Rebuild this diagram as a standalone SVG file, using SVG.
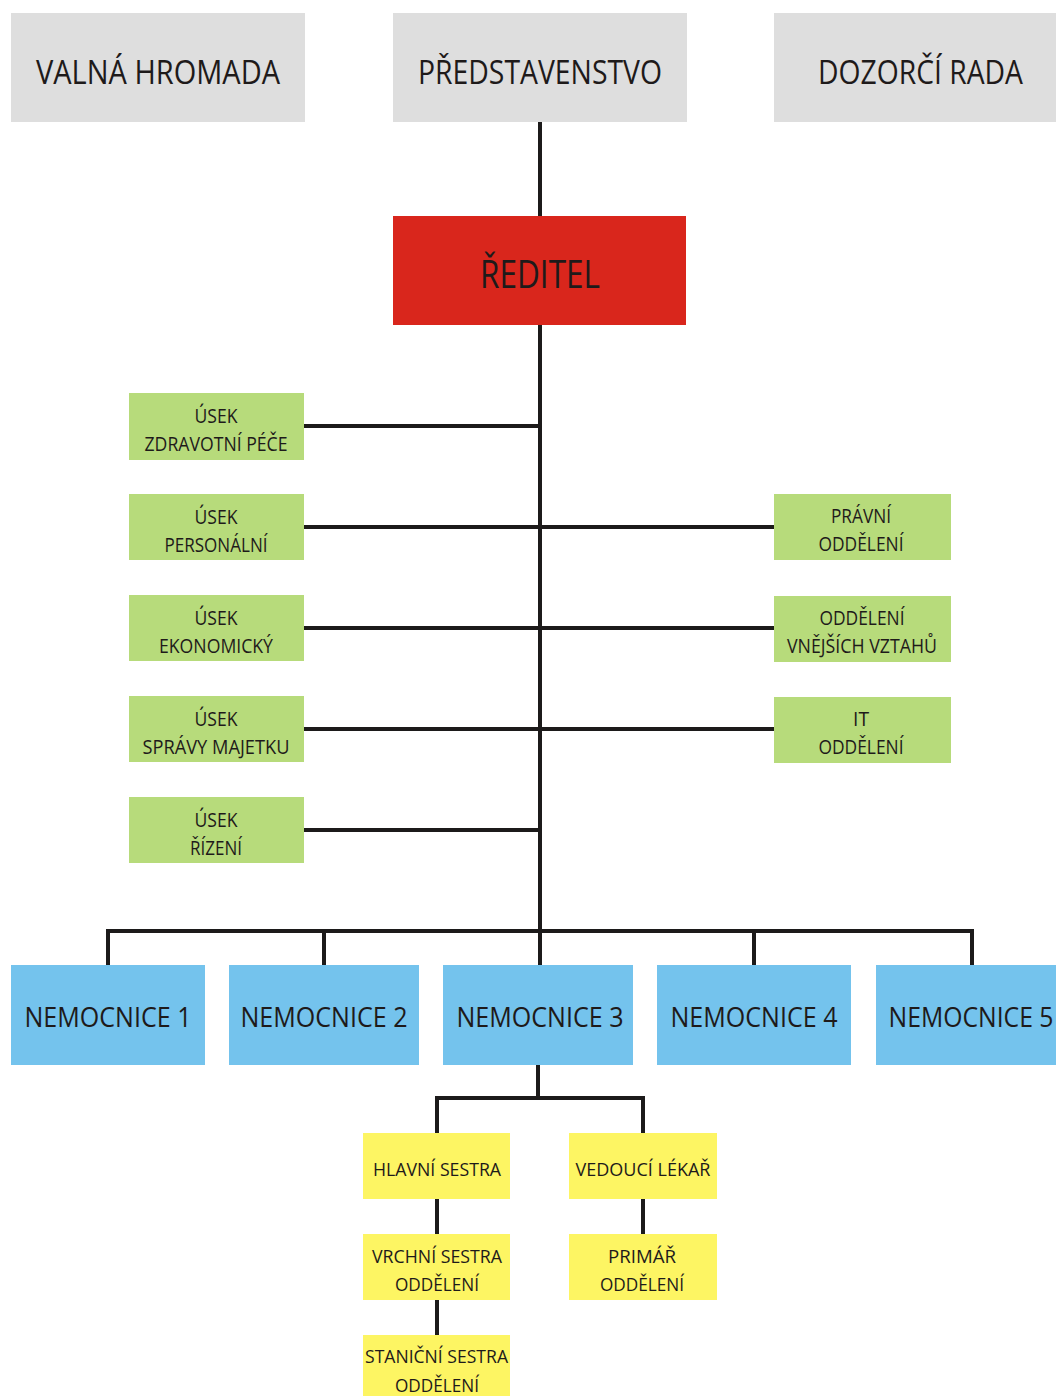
<svg xmlns="http://www.w3.org/2000/svg" width="1056" height="1396" viewBox="0 0 1056 1396">
<style>
.t{font-family:"Open Sans","Noto Sans","Liberation Sans",sans-serif;fill:#1e1a1a;text-anchor:middle}
.gray{fill:#dedede}.red{fill:#d9261c}.green{fill:#b7db7b}.blue{fill:#74c3ed}.yellow{fill:#fdf563}
.big{font-size:32px}.dir{font-size:38px}.g{font-size:20px}.b{font-size:28px}.y{font-size:19px}
.c{stroke:#1c1a1a;stroke-width:4;fill:none}
</style>
<rect width="1056" height="1396" fill="#ffffff"/>
<g id="connectors">
<path class="c" d="M540 122V931"/>
<path class="c" d="M304 426H540M304 527H540M304 628H540M304 729H540M304 830H540"/>
<path class="c" d="M540 527H774M540 628H774M540 729H774"/>
<path class="c" d="M108 965V931H972V965M324 931V965M540 931V965M754 931V965"/>
<path class="c" d="M538 1065V1098M437 1133V1098H643V1133"/>
<path class="c" d="M437 1199V1234M437 1300V1335M643 1199V1234"/>
</g>
<g id="valna"><rect class="gray" x="11" y="13" width="294" height="109"/><text class="t big" x="158" y="84" textLength="244" lengthAdjust="spacingAndGlyphs">VALNÁ HROMADA</text></g>
<g id="predstavenstvo"><rect class="gray" x="393" y="13" width="294" height="109"/><text class="t big" x="540" y="84" textLength="244" lengthAdjust="spacingAndGlyphs">PŘEDSTAVENSTVO</text></g>
<g id="dozorci"><rect class="gray" x="774" y="13" width="282" height="109"/><text class="t big" x="920.5" y="84" textLength="205" lengthAdjust="spacingAndGlyphs">DOZORČÍ RADA</text></g>
<g id="reditel"><rect class="red" x="393" y="216" width="293" height="109"/><text class="t dir" x="540" y="288" textLength="120" lengthAdjust="spacingAndGlyphs">ŘEDITEL</text></g>
<g id="usek-zdrav"><rect class="green" x="129" y="393" width="175" height="67"/><text class="t g" x="216" y="423" textLength="43" lengthAdjust="spacingAndGlyphs">ÚSEK</text><text class="t g" x="216" y="451" textLength="143" lengthAdjust="spacingAndGlyphs">ZDRAVOTNÍ PÉČE</text></g>
<g id="usek-pers"><rect class="green" x="129" y="494" width="175" height="66"/><text class="t g" x="216" y="524" textLength="43" lengthAdjust="spacingAndGlyphs">ÚSEK</text><text class="t g" x="216" y="552" textLength="103" lengthAdjust="spacingAndGlyphs">PERSONÁLNÍ</text></g>
<g id="usek-ekon"><rect class="green" x="129" y="595" width="175" height="66"/><text class="t g" x="216" y="625" textLength="43" lengthAdjust="spacingAndGlyphs">ÚSEK</text><text class="t g" x="216" y="653" textLength="114" lengthAdjust="spacingAndGlyphs">EKONOMICKÝ</text></g>
<g id="usek-sprav"><rect class="green" x="129" y="696" width="175" height="66"/><text class="t g" x="216" y="726" textLength="43" lengthAdjust="spacingAndGlyphs">ÚSEK</text><text class="t g" x="216" y="754" textLength="147" lengthAdjust="spacingAndGlyphs">SPRÁVY MAJETKU</text></g>
<g id="usek-rizeni"><rect class="green" x="129" y="797" width="175" height="66"/><text class="t g" x="216" y="827" textLength="43" lengthAdjust="spacingAndGlyphs">ÚSEK</text><text class="t g" x="216" y="855" textLength="52" lengthAdjust="spacingAndGlyphs">ŘÍZENÍ</text></g>
<g id="pravni"><rect class="green" x="774" y="494" width="177" height="66"/><text class="t g" x="861" y="523" textLength="60" lengthAdjust="spacingAndGlyphs">PRÁVNÍ</text><text class="t g" x="861" y="551" textLength="85" lengthAdjust="spacingAndGlyphs">ODDĚLENÍ</text></g>
<g id="vnejsi"><rect class="green" x="774" y="596" width="177" height="66"/><text class="t g" x="862" y="625" textLength="85" lengthAdjust="spacingAndGlyphs">ODDĚLENÍ</text><text class="t g" x="862" y="653" textLength="150" lengthAdjust="spacingAndGlyphs">VNĚJŠÍCH VZTAHŮ</text></g>
<g id="it"><rect class="green" x="774" y="697" width="177" height="66"/><text class="t g" x="861" y="726" textLength="16" lengthAdjust="spacingAndGlyphs">IT</text><text class="t g" x="861" y="754" textLength="85" lengthAdjust="spacingAndGlyphs">ODDĚLENÍ</text></g>
<g id="nem1"><rect class="blue" x="11" y="965" width="194" height="100"/><text class="t b" x="108" y="1027" textLength="167" lengthAdjust="spacingAndGlyphs">NEMOCNICE 1</text></g>
<g id="nem2"><rect class="blue" x="229" y="965" width="190" height="100"/><text class="t b" x="324" y="1027" textLength="167" lengthAdjust="spacingAndGlyphs">NEMOCNICE 2</text></g>
<g id="nem3"><rect class="blue" x="443" y="965" width="190" height="100"/><text class="t b" x="540" y="1027" textLength="167" lengthAdjust="spacingAndGlyphs">NEMOCNICE 3</text></g>
<g id="nem4"><rect class="blue" x="657" y="965" width="194" height="100"/><text class="t b" x="754" y="1027" textLength="167" lengthAdjust="spacingAndGlyphs">NEMOCNICE 4</text></g>
<g id="nem5"><rect class="blue" x="876" y="965" width="180" height="100"/><text class="t b" x="971" y="1027" textLength="165" lengthAdjust="spacingAndGlyphs">NEMOCNICE 5</text></g>
<g id="hlavni"><rect class="yellow" x="363" y="1133" width="147" height="66"/><text class="t y" x="437" y="1176" textLength="128" lengthAdjust="spacingAndGlyphs">HLAVNÍ SESTRA</text></g>
<g id="vedouci"><rect class="yellow" x="569" y="1133" width="148" height="66"/><text class="t y" x="643" y="1176" textLength="135" lengthAdjust="spacingAndGlyphs">VEDOUCÍ LÉKAŘ</text></g>
<g id="vrchni"><rect class="yellow" x="363" y="1234" width="147" height="66"/><text class="t y" x="437" y="1263" textLength="130" lengthAdjust="spacingAndGlyphs">VRCHNÍ SESTRA</text><text class="t y" x="437" y="1291" textLength="84" lengthAdjust="spacingAndGlyphs">ODDĚLENÍ</text></g>
<g id="primar"><rect class="yellow" x="569" y="1234" width="148" height="66"/><text class="t y" x="642" y="1263" textLength="68" lengthAdjust="spacingAndGlyphs">PRIMÁŘ</text><text class="t y" x="642" y="1291" textLength="84" lengthAdjust="spacingAndGlyphs">ODDĚLENÍ</text></g>
<g id="stanicni"><rect class="yellow" x="363" y="1335" width="147" height="61"/><text class="t y" x="436.5" y="1363" textLength="143" lengthAdjust="spacingAndGlyphs">STANIČNÍ SESTRA</text><text class="t y" x="437" y="1392" textLength="84" lengthAdjust="spacingAndGlyphs">ODDĚLENÍ</text></g>
</svg>
